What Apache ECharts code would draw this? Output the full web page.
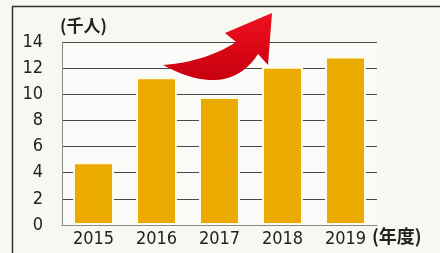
<!DOCTYPE html>
<html>
<head>
<meta charset="utf-8">
<script src="https://cdn.jsdelivr.net/npm/echarts@6/dist/echarts.min.js"></script>
<style>
html,body{margin:0;padding:0;background:#f8f7f1;}
#c{width:440px;height:253px;}
</style>
</head>
<body>
<div id="c"></div>
<script>
const categories = ['2015', '2016', '2017', '2018', '2019'];
const values = [4.8, 11.3, 9.8, 12.1, 12.9];
const yMin = 0, yMax = 14, yStep = 2;
const yUnit = '(千人)';
const xUnit = '(年度)';

// decorative arrow outline (pixel space)
function quad(p0, c, p1, n) {
  const pts = [];
  for (let i = 0; i <= n; i++) {
    const t = i / n, u = 1 - t;
    pts.push([u*u*p0[0] + 2*u*t*c[0] + t*t*p1[0], u*u*p0[1] + 2*u*t*c[1] + t*t*p1[1]]);
  }
  return pts;
}
const arrowPts = [].concat(
  quad([163, 65], [205, 62], [236, 42], 16),
  [[225, 33], [272, 13], [268, 65]],
  quad([258, 54], [228, 100], [163, 65], 20)
);

const numFont = '"DejaVu Sans Condensed", "Liberation Sans Narrow", "Liberation Sans", sans-serif';

const chart = echarts.init(document.getElementById('c'), null, {renderer: 'canvas'});
chart.setOption({
  backgroundColor: '#f8f7f1',
  animation: false,
  grid: {left: 62, right: 63, top: 42, bottom: 28, show: true, backgroundColor: '#fbfbf9', borderWidth: 0},
  xAxis: {
    type: 'category',
    data: categories,
    axisLine: {show: true, lineStyle: {color: '#8a8a8a', width: 1}},
    axisTick: {show: false},
    axisLabel: {color: '#222', fontFamily: numFont, fontSize: 18, margin: 5}
  },
  yAxis: {
    type: 'value',
    min: yMin, max: yMax, interval: yStep,
    axisLine: {show: true, lineStyle: {color: '#8a8a8a', width: 1}},
    axisTick: {show: false},
    axisLabel: {color: '#222', fontFamily: numFont, fontSize: 18, margin: 19},
    splitLine: {show: true, lineStyle: {color: '#4a4a4a', width: 1}}
  },
  series: [{
    type: 'bar',
    data: values,
    barWidth: '65%',
    itemStyle: {color: '#eaaa00', borderColor: '#fffbe6', borderWidth: 2}
  }],
  graphic: [
    {type: 'line', shape: {x1: 12.5, y1: 6, x2: 12.5, y2: 253}, style: {stroke: '#333', lineWidth: 1.5}, z: 10},
    {type: 'line', shape: {x1: 12, y1: 6.5, x2: 440, y2: 6.5}, style: {stroke: '#333', lineWidth: 1.5}, z: 10},
    {type: 'text', x: 60, y: 17, style: {text: yUnit, fill: '#222', font: 'bold 17px "Noto Sans CJK JP"'}, z: 10},
    {type: 'text', x: 372, y: 227, style: {text: xUnit, fill: '#222', font: 'bold 18px "Noto Sans CJK JP"'}, z: 10},
    {type: 'polygon', shape: {points: arrowPts},
     style: {fill: new echarts.graphic.LinearGradient(0, 0, 0, 1, [{offset: 0, color: '#f01020'}, {offset: 1, color: '#c8000e'}])}, z: 20}
  ]
});
</script>
</body>
</html>
